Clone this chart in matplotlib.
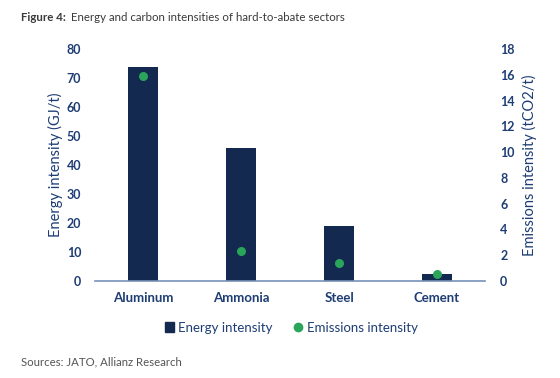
import matplotlib
matplotlib.use('Agg')
import numpy as np
from matplotlib import pyplot as plt
from matplotlib.lines import Line2D
from matplotlib.patches import Patch

# data
sectors = ['Aluminum', 'Ammonia', 'Steel', 'Cement']
energy = [74.0, 45.8, 19.0, 2.5]       # GJ/t
emissions = [15.9, 2.35, 1.35, 0.55]   # tCO2/t

navy = '#13294f'
green = '#2aa55a'
txt = '#1e3d74'
axcol = '#7890b8'

plt.rcParams['font.family'] = ['Lato', 'DejaVu Sans']

fig = plt.figure(figsize=(5.6, 3.78), dpi=100)
ax = fig.add_axes([0.170, 0.257, 0.696, 0.613])
ax2 = ax.twinx()

x = np.arange(len(sectors))
ax.bar(x, energy, width=0.31, color=navy, zorder=2)
ax2.scatter(x, emissions, s=30, color=green, zorder=3)

ax.set_xlim(-0.49, 3.49)
ax.set_ylim(0, 80)
ax2.set_ylim(0, 18)
ax.set_yticks(range(0, 81, 10))
ax2.set_yticks(range(0, 19, 2))
ax.set_xticks(x)
ax.set_xticklabels(sectors)

for a in (ax, ax2):
    for s in a.spines.values():
        s.set_visible(False)
    a.tick_params(length=0, colors=txt, labelsize=9)
ax.spines['bottom'].set_visible(True)
ax.spines['bottom'].set_color(axcol)
ax.spines['bottom'].set_linewidth(1.2)
ax.tick_params(axis='y', pad=10)
ax.tick_params(axis='x', pad=8, labelsize=9.5)
ax2.tick_params(axis='y', pad=11)
for lab in ax.get_xticklabels() + ax.get_yticklabels() + ax2.get_yticklabels():
    lab.set_fontweight('bold')

ax.set_ylabel('Energy intensity (GJ/t)', color=txt, fontsize=10.5, labelpad=3)
ax2.set_ylabel('Emissions intensity (tCO2/t)', color=txt, fontsize=10.5, labelpad=5)

handles = [Patch(color=navy, label='Energy intensity'),
           Line2D([], [], marker='o', ls='', color=green, markersize=6, label='Emissions intensity')]
leg = fig.legend(handles=handles, loc='center', bbox_to_anchor=(0.52, 0.133), ncol=2,
                 frameon=False, fontsize=9.5, handlelength=0.7, handletextpad=0.3,
                 columnspacing=1.6)
for t in leg.get_texts():
    t.set_color(txt)

fig.text(0.038, 0.945, 'Figure 4:', fontsize=8.3, fontweight='bold', color='#3a3a3a')
fig.text(0.127, 0.945, 'Energy and carbon intensities of hard-to-abate sectors', fontsize=8.3, color='#3a3a3a')
fig.text(0.038, 0.032, 'Sources: JATO, Allianz Research', fontsize=8.2, color='#555555')

fig.savefig('out.png', dpi=100)
